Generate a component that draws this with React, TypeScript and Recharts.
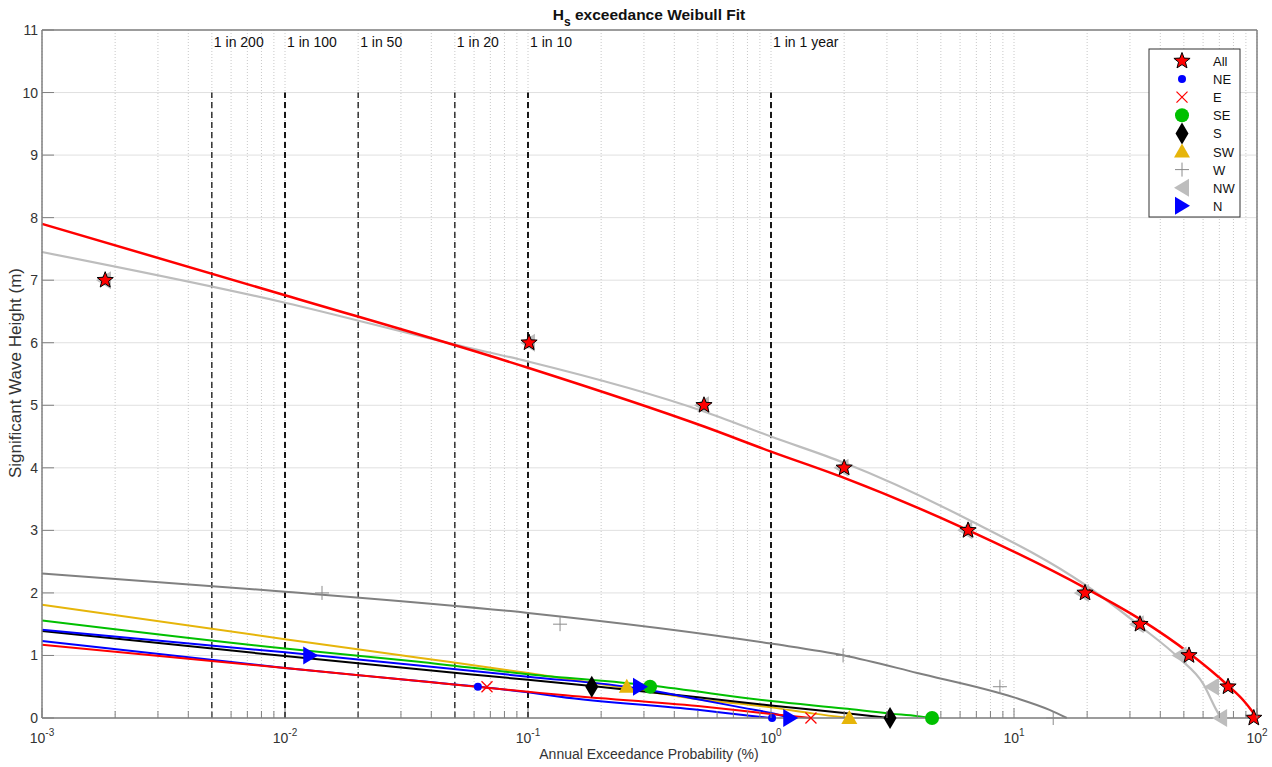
import React from 'react';
import { ComposedChart, Line, Scatter, XAxis, YAxis, CartesianGrid, ReferenceLine, ReferenceDot } from 'recharts';

// tick values (log axis: decades + minor ticks)
const decades = [0.001, 0.01, 0.1, 1, 10, 100];
const xTicks = [
  0.001, 0.002, 0.003, 0.004, 0.005, 0.006, 0.007, 0.008, 0.009,
  0.01, 0.02, 0.03, 0.04, 0.05, 0.06, 0.07, 0.08, 0.09,
  0.1, 0.2, 0.3, 0.4, 0.5, 0.6, 0.7, 0.8, 0.9,
  1, 2, 3, 4, 5, 6, 7, 8, 9,
  10, 20, 30, 40, 50, 60, 70, 80, 90,
  100,
];
const yTicks = [0, 1, 2, 3, 4, 5, 6, 7, 8, 9, 10, 11];

// return period guide lines
const returnP = [0.005, 0.01, 0.02, 0.05, 0.1, 1];
const returnLabels = ['1 in 200', '1 in 100', '1 in 50', '1 in 20', '1 in 10', '1 in 1 year'];

// observed points [probability %, Hs m]
const allPts = [[0.00182, 7], [0.101, 6], [0.53, 5], [2.0, 4], [6.47, 3], [19.6, 2], [33, 1.5], [52.5, 1], [76, 0.5], [97, 0]];
const nwPts = [[0.0018, 7], [0.1, 6], [0.52, 5], [1.95, 4], [6.3, 3], [19, 2], [32, 1.5], [48, 1], [65.3, 0.5], [70.5, 0]];
const wPts = [[0.0142, 2], [0.1355, 1.5], [1.98, 1], [8.75, 0.5], [14.5, 0]];
const nPts = [[0.0127, 1], [0.289, 0.5], [1.2, 0]];
const nePts = [[0.0622, 0.5], [1.01, 0]];
const ePts = [[0.0678, 0.5], [1.46, 0]];
const sePts = [[0.318, 0.5], [4.6, 0]];
const sPts = [[0.183, 0.5], [3.09, 0]];
const swPts = [[0.255, 0.5], [2.1, 0]];

// Weibull fit curves
const allFit = [[0.001, 7.9], [0.01, 6.76], [0.1, 5.6], [0.53, 4.66], [1, 4.26], [2, 3.84], [6.5, 3.0], [19.6, 2.08], [33, 1.58], [52.5, 1.04], [76, 0.52], [88, 0.28], [95, 0.12], [100, 0]];
const nwFit = [[0.001, 7.45], [0.01, 6.64], [0.05, 5.97], [0.1, 5.7], [0.53, 4.9], [1, 4.5], [2, 4.08], [6.5, 3.17], [19.6, 2.13], [33, 1.47], [48, 0.95], [60, 0.55], [68, 0.13], [71, 0]];
const wFit = [[0.001, 2.31], [0.01, 2.02], [0.1, 1.68], [1, 1.19], [2, 1.0], [4, 0.72], [10, 0.33], [14, 0.13], [16.5, 0]];
const swFit = [[0.001, 1.81], [0.01, 1.26], [0.0355, 0.965], [0.1, 0.72], [0.255, 0.48], [0.5, 0.3], [1, 0.17], [1.5, 0.07], [2.1, 0]];
const seFit = [[0.001, 1.56], [0.01, 1.11], [0.0355, 0.9], [0.1, 0.7], [0.318, 0.52], [1, 0.27], [2, 0.15], [3.1, 0.07], [4, 0.03], [4.6, 0]];
const nFit = [[0.001, 1.41], [0.01, 1.05], [0.0355, 0.84], [0.1, 0.66], [0.289, 0.47], [0.5, 0.3], [0.8, 0.15], [1, 0.08], [1.2, 0]];
const sFit = [[0.001, 1.39], [0.01, 0.99], [0.0355, 0.78], [0.1, 0.61], [0.183, 0.51], [0.5, 0.33], [1, 0.2], [2, 0.08], [3.09, 0]];
const neFit = [[0.001, 1.23], [0.01, 0.8], [0.0355, 0.59], [0.1, 0.41], [0.135, 0.34], [0.5, 0.13], [0.8, 0.04], [1.01, 0]];
const eFit = [[0.001, 1.17], [0.01, 0.8], [0.0355, 0.59], [0.1, 0.42], [0.135, 0.37], [0.5, 0.19], [1, 0.065], [1.46, 0]];

const rows = (pts: number[][]) => pts.map(([p, h]) => ({ p, h }));

const AXIS = '#808080';
const FONT = '"Liberation Sans", Arial, sans-serif';
const RED = '#ff0000';
const BLUE = '#0000ff';
const GREEN = '#00c000';
const GOLD = '#e6b50a';
const DGRAY = '#808080';
const LGRAY = '#bdbdbd';

type Kind = 'star' | 'dot' | 'x' | 'circle' | 'diamond' | 'tri' | 'plus' | 'left' | 'right';

function Marker({ kind, cx, cy }: { kind: Kind; cx: number; cy: number }) {
  switch (kind) {
    case 'star': {
      const pts: string[] = [];
      for (let i = 0; i < 10; i++) {
        const r = i % 2 === 0 ? 8.5 : 3.6;
        const a = -Math.PI / 2 + (i * Math.PI) / 5;
        pts.push(`${cx + r * Math.cos(a)},${cy + r * Math.sin(a)}`);
      }
      return <polygon points={pts.join(' ')} fill={RED} stroke="#000" strokeWidth={1} />;
    }
    case 'dot':
      return <circle cx={cx} cy={cy} r={4} fill={BLUE} />;
    case 'x':
      return (
        <g stroke={RED} strokeWidth={1.2}>
          <line x1={cx - 5.5} y1={cy - 5.5} x2={cx + 5.5} y2={cy + 5.5} />
          <line x1={cx - 5.5} y1={cy + 5.5} x2={cx + 5.5} y2={cy - 5.5} />
        </g>
      );
    case 'circle':
      return <circle cx={cx} cy={cy} r={7} fill={GREEN} />;
    case 'diamond':
      return <polygon points={`${cx},${cy - 11} ${cx + 6.5},${cy} ${cx},${cy + 11} ${cx - 6.5},${cy}`} fill="#000" />;
    case 'tri':
      return <polygon points={`${cx},${cy - 8} ${cx + 8},${cy + 6} ${cx - 8},${cy + 6}`} fill={GOLD} />;
    case 'plus':
      return (
        <g stroke="#8c8c8c" strokeWidth={1}>
          <line x1={cx - 7} y1={cy} x2={cx + 7} y2={cy} />
          <line x1={cx} y1={cy - 7} x2={cx} y2={cy + 7} />
        </g>
      );
    case 'left':
      return <polygon points={`${cx - 8},${cy} ${cx + 7},${cy - 9} ${cx + 7},${cy + 9}`} fill={LGRAY} />;
    case 'right':
      return <polygon points={`${cx + 8},${cy} ${cx - 7},${cy - 9} ${cx - 7},${cy + 9}`} fill={BLUE} />;
  }
  return null;
}

const legendItems: { name: string; kind: Kind }[] = [
  { name: 'All', kind: 'star' },
  { name: 'NE', kind: 'dot' },
  { name: 'E', kind: 'x' },
  { name: 'SE', kind: 'circle' },
  { name: 'S', kind: 'diamond' },
  { name: 'SW', kind: 'tri' },
  { name: 'W', kind: 'plus' },
  { name: 'NW', kind: 'left' },
  { name: 'N', kind: 'right' },
];

const isDecade = (v: number) => decades.includes(v);

const BottomTick = (props: any) => {
  const { x, y, payload } = props;
  const v = payload.value;
  const major = isDecade(v);
  return (
    <g>
      <line x1={x} x2={x} y1={y} y2={y - (major ? 10 : 7)} stroke={AXIS} strokeWidth={1} />
      {major && (
        <text x={x} y={y + 25} textAnchor="middle" fontSize={14} fill="#333" fontFamily={FONT}>
          <tspan>10</tspan>
          <tspan dy={-7} fontSize={10}>{Math.round(Math.log10(v))}</tspan>
        </text>
      )}
    </g>
  );
};

const TopTick = (props: any) => {
  const { x, y, payload } = props;
  const major = isDecade(payload.value);
  return <line x1={x} x2={x} y1={y} y2={y + (major ? 10 : 7)} stroke={AXIS} strokeWidth={1} />;
};

const LeftTick = (props: any) => {
  const { x, y, payload } = props;
  return (
    <g>
      <line x1={x} x2={x + 12} y1={y} y2={y} stroke={AXIS} strokeWidth={1} />
      <text x={x - 4} y={y} dy={5} textAnchor="end" fontSize={14} fill="#333" fontFamily={FONT}>
        {payload.value}
      </text>
    </g>
  );
};

const RightTick = (props: any) => {
  const { x, y } = props;
  return <line x1={x} x2={x - 12} y1={y} y2={y} stroke={AXIS} strokeWidth={1} />;
};

const fits: { data: number[][]; color: string; width: number }[] = [
  { data: wFit, color: DGRAY, width: 2 },
  { data: nwFit, color: LGRAY, width: 2.2 },
  { data: swFit, color: GOLD, width: 2 },
  { data: seFit, color: GREEN, width: 2 },
  { data: sFit, color: '#000000', width: 2 },
  { data: nFit, color: BLUE, width: 2 },
  { data: neFit, color: BLUE, width: 2 },
  { data: eFit, color: RED, width: 2 },
  { data: allFit, color: RED, width: 2.5 },
];

const marks: { data: number[][]; kind: Kind }[] = [
  { data: nwPts, kind: 'left' },
  { data: wPts, kind: 'plus' },
  { data: swPts, kind: 'tri' },
  { data: sePts, kind: 'circle' },
  { data: sPts, kind: 'diamond' },
  { data: nPts, kind: 'right' },
  { data: nePts, kind: 'dot' },
  { data: ePts, kind: 'x' },
  { data: allPts, kind: 'star' },
];

export default function App() {
  return (
    <div style={{ position: 'absolute', left: 0, top: 0, width: 1272, height: 767, background: '#fff', fontFamily: FONT }}>
      <ComposedChart width={1272} height={767} margin={{ top: 29, right: 14, bottom: 0, left: 0 }}>
        <CartesianGrid horizontal={true} vertical={false} stroke="#e0e0e0" />
        <CartesianGrid horizontal={false} vertical={true} stroke="#c8c8c8" strokeDasharray="1 2" />
        <XAxis
          dataKey="p"
          type="number"
          scale="log"
          domain={[0.001, 100]}
          ticks={xTicks}
          interval={0}
          tick={<BottomTick />}
          tickLine={false}
          tickSize={0}
          tickMargin={0}
          height={49}
          axisLine={{ stroke: AXIS, strokeWidth: 1.5 }}
        />
        <XAxis
          xAxisId="top"
          orientation="top"
          dataKey="p"
          type="number"
          scale="log"
          domain={[0.001, 100]}
          ticks={xTicks}
          interval={0}
          tick={<TopTick />}
          tickLine={false}
          tickSize={0}
          tickMargin={0}
          height={1}
          axisLine={{ stroke: AXIS, strokeWidth: 1.5 }}
        />
        <YAxis
          dataKey="h"
          type="number"
          domain={[0, 11]}
          ticks={yTicks}
          interval={0}
          tick={<LeftTick />}
          tickLine={false}
          tickSize={0}
          tickMargin={0}
          width={42}
          axisLine={{ stroke: AXIS, strokeWidth: 1.5 }}
        />
        <YAxis
          yAxisId="right"
          orientation="right"
          type="number"
          domain={[0, 11]}
          ticks={yTicks}
          interval={0}
          tick={<RightTick />}
          tickLine={false}
          tickSize={0}
          tickMargin={0}
          width={1}
          axisLine={{ stroke: AXIS, strokeWidth: 1.5 }}
        />

        {returnP.map((p, i) => (
          <ReferenceLine
            key={`rl-${i}`}
            segment={[{ x: p, y: 0 }, { x: p, y: 10 }]}
            stroke="#000"
            strokeWidth={decades.includes(p) ? 1.8 : 1.2}
            strokeDasharray="6 4"
          />
        ))}
        {returnP.map((p, i) => (
          <ReferenceDot
            key={`rd-${i}`}
            x={p}
            y={10.8}
            r={1}
            fill="none"
            stroke="none"
            label={{ value: returnLabels[i], position: 'right', offset: 1, fontSize: 14, fill: '#111', fontFamily: FONT }}
          />
        ))}

        {fits.map((f, i) => (
          <Line
            key={`fit-${i}`}
            data={rows(f.data)}
            dataKey="h"
            type="monotone"
            stroke={f.color}
            strokeWidth={f.width}
            dot={false}
            activeDot={false}
            isAnimationActive={false}
          />
        ))}
        {marks.map((m, i) => (
          <Scatter
            key={`mk-${i}`}
            data={rows(m.data)}
            dataKey="h"
            isAnimationActive={false}
            shape={(sp: any) => <Marker kind={m.kind} cx={sp.cx} cy={sp.cy} />}
          />
        ))}
      </ComposedChart>

      <svg width={1272} height={767} style={{ position: 'absolute', left: 0, top: 0, pointerEvents: 'none' }}>
        <text x={649} y={20} textAnchor="middle" fontSize={15.5} fontWeight="bold" fill="#111" fontFamily={FONT}>
          <tspan>H</tspan>
          <tspan dy={6} fontSize={12}>s</tspan>
          <tspan dy={-6}> exceedance Weibull Fit</tspan>
        </text>
        <text x={649} y={759} textAnchor="middle" fontSize={14} fill="#333" fontFamily={FONT}>
          Annual Exceedance Probability (%)
        </text>
        <text x={21} y={373} textAnchor="middle" fontSize={17} fill="#333" fontFamily={FONT} transform="rotate(-90, 21, 373)">
          Significant Wave Height (m)
        </text>
        <g>
          <rect x={1149} y={49} width={91} height={168} fill="#fff" stroke="#333" strokeWidth={1} />
          {legendItems.map((it, i) => {
            const cy = 61 + i * 18.1;
            return (
              <g key={it.name}>
                <Marker kind={it.kind} cx={1182} cy={cy} />
                <text x={1213} y={cy + 5} fontSize={13} fill="#111" fontFamily={FONT}>
                  {it.name}
                </text>
              </g>
            );
          })}
        </g>
      </svg>
    </div>
  );
}
